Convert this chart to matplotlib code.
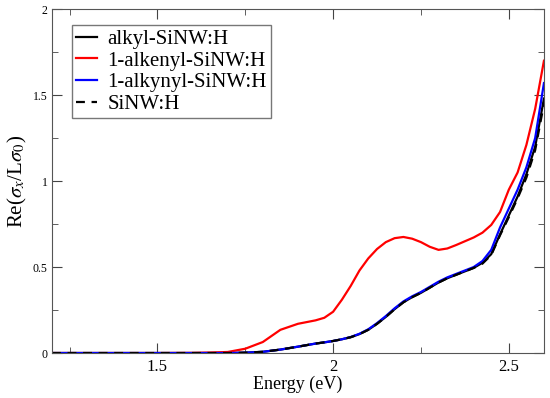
import matplotlib
matplotlib.use("Agg")
import matplotlib.pyplot as plt
from matplotlib.ticker import MultipleLocator

plt.rcParams["font.family"] = ["Liberation Serif", "DejaVu Serif"]
plt.rcParams["mathtext.fontset"] = "stix"

# energy grid (eV)
energy = [1.2, 1.5, 1.6, 1.65, 1.7, 1.75, 1.8, 1.85, 1.9, 1.95, 1.975, 2.0, 2.025, 2.05,
          2.075, 2.1, 2.125, 2.15, 2.175, 2.2, 2.225, 2.25, 2.275, 2.3, 2.325, 2.35,
          2.375, 2.4, 2.425, 2.45, 2.475, 2.5, 2.525, 2.55, 2.575, 2.6]

alkyl = [0, 0, 0, 0, 0, 0.002, 0.007, 0.02, 0.037, 0.055, 0.062, 0.07, 0.08, 0.092,
         0.11, 0.135, 0.17, 0.21, 0.255, 0.295, 0.325, 0.35, 0.38, 0.41, 0.435, 0.455,
         0.475, 0.495, 0.525, 0.575, 0.69, 0.80, 0.91, 1.04, 1.20, 1.48]
alkenyl = [0, 0, 0.001, 0.003, 0.006, 0.025, 0.064, 0.135, 0.17, 0.19, 0.205, 0.24, 0.31, 0.39,
           0.48, 0.55, 0.605, 0.645, 0.668, 0.675, 0.665, 0.645, 0.618, 0.60, 0.608, 0.628,
           0.65, 0.672, 0.70, 0.745, 0.82, 0.95, 1.05, 1.21, 1.42, 1.70]
alkynyl = [0, 0, 0, 0, 0, 0.002, 0.007, 0.02, 0.037, 0.055, 0.062, 0.07, 0.08, 0.093,
           0.112, 0.138, 0.174, 0.215, 0.26, 0.30, 0.33, 0.355, 0.385, 0.415, 0.44, 0.46,
           0.48, 0.50, 0.535, 0.60, 0.73, 0.84, 0.95, 1.08, 1.25, 1.57]
sinw_h = [0, 0, 0, 0, 0, 0.002, 0.007, 0.02, 0.037, 0.055, 0.062, 0.07, 0.08, 0.092,
          0.11, 0.135, 0.17, 0.21, 0.255, 0.295, 0.325, 0.35, 0.38, 0.41, 0.435, 0.455,
          0.475, 0.495, 0.52, 0.57, 0.685, 0.79, 0.90, 1.02, 1.18, 1.45]

fig = plt.figure(figsize=(5.5, 3.98), dpi=100)
ax = fig.add_axes([0.0945, 0.113, 0.8945, 0.864])

ax.plot(energy, alkyl, color="black", lw=1.6, label="alkyl-SiNW:H")
ax.plot(energy, alkenyl, color="#ff0000", lw=1.6, label="1-alkenyl-SiNW:H")
ax.plot(energy, alkynyl, color="#0000ff", lw=1.6, label="1-alkynyl-SiNW:H")
ax.plot(energy, sinw_h, color="black", lw=1.6, ls=(0, (4, 3)), label="SiNW:H")

ax.set_xlim(1.2, 2.6)
ax.set_ylim(0, 2)
ax.xaxis.set_minor_locator(MultipleLocator(0.25))
ax.yaxis.set_minor_locator(MultipleLocator(0.25))
ax.set_xticks([1.5, 2.0, 2.5])
ax.set_xticklabels(["1.5", "2", "2.5"])
ax.set_yticks([0, 0.5, 1, 1.5, 2])
ax.set_yticklabels(["0", "0.5", "1", "1.5", "2"])
ax.tick_params(which="both", direction="in", top=True, right=True, color="#444444")
ax.tick_params(which="major", length=7)
ax.tick_params(which="minor", length=4)
ax.tick_params(axis="x", labelsize=12, pad=4)
ax.tick_params(axis="y", labelsize=8.5, pad=3)
for s in ax.spines.values():
    s.set_color("#555555")

ax.set_xlabel("Energy (eV)", fontsize=13, labelpad=1)
ax.set_ylabel(r"Re($\sigma_x$/L$\sigma_0$)", fontsize=15, labelpad=3)

leg = ax.legend(loc="upper left", bbox_to_anchor=(0.041, 0.953), fontsize=15,
                frameon=True, fancybox=False, handlelength=1.0, handletextpad=0.5,
                borderpad=0.2, labelspacing=0.1, borderaxespad=0)
leg.get_frame().set_edgecolor("#555555")
leg.get_frame().set_linewidth(1.0)

fig.savefig("out.png", dpi=100)
